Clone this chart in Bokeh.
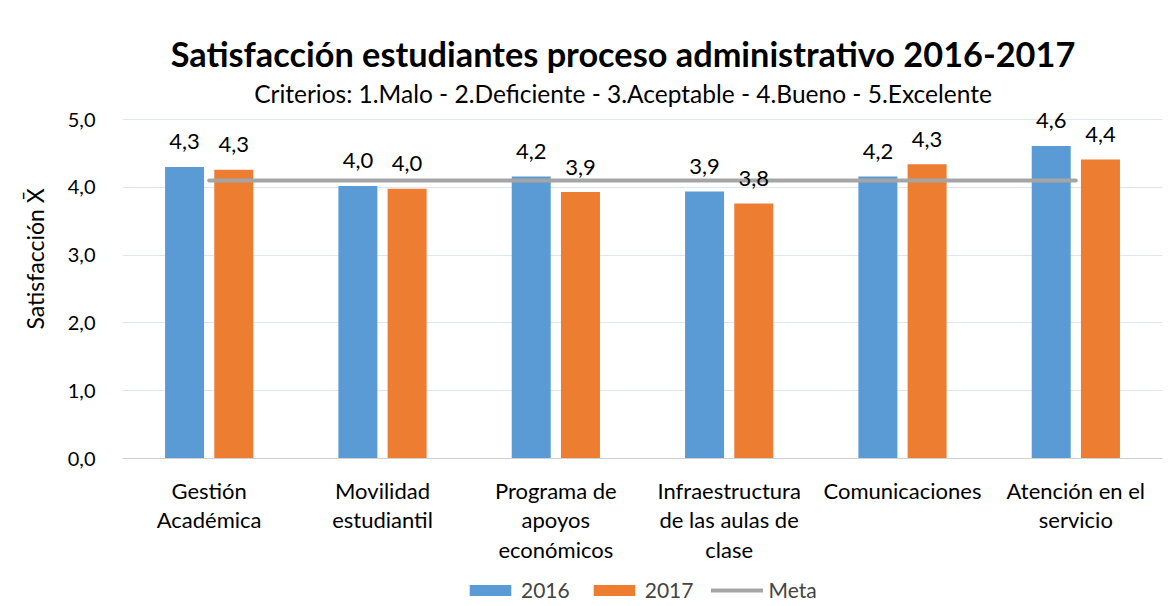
import math
from bokeh.plotting import figure
from bokeh.layouts import column
from bokeh.models import (ColumnDataSource, FactorRange, Range1d, FixedTicker,
                          Legend, LegendItem, Label)
from bokeh.transform import dodge
from bokeh.core.properties import value
from bokeh.embed import file_html
from bokeh.resources import INLINE

# ---- data ----
categories = ["Gestión\nAcadémica", "Movilidad\nestudiantil",
              "Programa de\napoyos\neconómicos",
              "Infraestructura\nde las aulas de\nclase",
              "Comunicaciones", "Atención en el\nservicio"]
values_2016 = [4.30, 4.02, 4.16, 3.94, 4.16, 4.61]
values_2017 = [4.26, 3.98, 3.93, 3.76, 4.34, 4.41]
meta = [4.1, 4.1, 4.1, 4.1, 4.1, 4.1]
y_ticks = [0, 1, 2, 3, 4, 5]
y_tick_labels = ["0,0", "1,0", "2,0", "3,0", "4,0", "5,0"]
series_names = ["2016", "2017", "Meta"]

title_text = "Satisfacción estudiantes proceso administrativo 2016-2017"
subtitle_text = "Criterios: 1.Malo - 2.Deficiente - 3.Aceptable - 4.Bueno - 5.Excelente"
y_label_text = "Satisfacción X\u0304"

FONT = "Lato"
BLUE = "#5B9BD5"
ORANGE = "#ED7D31"
GRAY = "#A5A5A5"

def fmt(v):
    return f"{v:.1f}".replace(".", ",")

src = ColumnDataSource(dict(
    cat=categories,
    v16=values_2016,
    v17=values_2017,
    l16=[fmt(v) for v in values_2016],
    l17=[fmt(v) for v in values_2017],
    meta=meta,
))

# The frame reaches up to the top of the canvas so that the title, the
# subtitle and the labels above tall bars are drawn inside it (not clipped);
# axis ticks and grid lines still stop at 5,0.
Y_TOP = 6.608
p = figure(width=1170, height=574, output_backend="svg", toolbar_location=None,
           x_range=FactorRange(factors=categories, range_padding=0),
           y_range=Range1d(0, Y_TOP),
           min_border_left=122, min_border_right=8, min_border_top=10,
           min_border_bottom=116)
p.outline_line_color = None
p.background_fill_color = "white"
p.border_fill_color = "white"

off = 0.142
bw = 0.225
p.vbar(x=dodge("cat", -off, range=p.x_range), top="v16", width=bw,
       source=src, fill_color=BLUE, line_color=None)
p.vbar(x=dodge("cat", off, range=p.x_range), top="v17", width=bw,
       source=src, fill_color=ORANGE, line_color=None)
p.line(x="cat", y="meta", source=src, line_color=GRAY, line_width=4,
       line_cap="round")

p.text(x=dodge("cat", -off, range=p.x_range), y="v16", text="l16", source=src,
       text_font=value(FONT), text_font_size="22px", text_align="center",
       text_baseline="alphabetic", y_offset=-25, text_color="#000000")
p.text(x=dodge("cat", off, range=p.x_range), y="v17", text="l17", source=src,
       text_font=value(FONT), text_font_size="22px", text_align="center",
       text_baseline="alphabetic", y_offset=-25, text_color="#000000")

# axes
p.yaxis.ticker = FixedTicker(ticks=y_ticks)
p.yaxis.major_label_overrides = {t: s for t, s in zip(y_ticks, y_tick_labels)}
p.yaxis.axis_line_color = None
p.yaxis.major_tick_line_color = None
p.yaxis.minor_tick_line_color = None
p.yaxis.major_label_standoff = 21
p.yaxis.major_label_text_font = FONT
p.yaxis.major_label_text_font_size = "20px"
p.yaxis.major_label_text_color = "#000000"
# trailing spaces push the rotated label down to the reference's position
p.yaxis.axis_label = y_label_text + "\u2003\u2003\u2002\u2009"
p.yaxis.axis_label_text_font = FONT
p.yaxis.axis_label_text_font_size = "23px"
p.yaxis.axis_label_text_font_style = "normal"
p.yaxis.axis_label_text_color = "#000000"
p.yaxis.axis_label_standoff = 16

p.xaxis.axis_line_color = "#D0D0D0"
p.xaxis.axis_line_width = 1
p.xaxis.major_tick_line_color = None
p.xaxis.minor_tick_line_color = None
p.xaxis.major_label_standoff = 12
p.xaxis.major_label_text_font = FONT
p.xaxis.major_label_text_font_size = "22px"
p.xaxis.major_label_text_color = "#000000"
p.xaxis.major_label_text_line_height = 1.1
p.xaxis.major_label_orientation = "horizontal"

p.xgrid.grid_line_color = None
p.ygrid.grid_line_color = "#DCE6F2"
p.ygrid.grid_line_width = 1

# title and subtitle, inside the (tall) frame
p.add_layout(Label(x=2.8875, y=5.969, text=title_text, text_font=FONT,
                   text_font_size="34.3px", text_font_style="bold",
                   text_align="center", text_baseline="alphabetic",
                   text_color="#000000"))
p.add_layout(Label(x=2.8875, y=5.379, text=subtitle_text, text_font=FONT,
                   text_font_size="24.5px", text_align="center",
                   text_baseline="alphabetic", text_color="#000000"))

# legend strip below the chart (legend-only renderers, drawn outside the view)
lg = figure(width=1170, height=30, output_backend="svg", toolbar_location=None,
            x_range=Range1d(0, 1), y_range=Range1d(0, 1),
            x_axis_type=None, y_axis_type=None,
            min_border_left=0, min_border_right=0, min_border_top=0,
            min_border_bottom=0)
lg.outline_line_color = None
d16 = lg.vbar(x=[0.5], bottom=[-6], top=[-5], width=0.1,
              fill_color=BLUE, line_color=None)
d17 = lg.vbar(x=[0.5], bottom=[-6], top=[-5], width=0.1,
              fill_color=ORANGE, line_color=None)
dm = lg.line(x=[0.4, 0.6], y=[-5, -5], line_color=GRAY, line_width=4,
             line_cap="round")

legend = Legend(items=[LegendItem(label=series_names[0], renderers=[d16]),
                       LegendItem(label=series_names[1], renderers=[d17]),
                       LegendItem(label=series_names[2], renderers=[dm])],
                orientation="horizontal", location=(342, 2),
                glyph_width=52, glyph_height=14, label_standoff=5,
                spacing=18, border_line_color=None,
                background_fill_alpha=0, label_text_font=FONT,
                label_text_font_size="21px", padding=0, margin=0)
lg.add_layout(legend, "center")

layout = column(p, lg, spacing=0)
open("out.html", "w").write(file_html(layout, INLINE))
